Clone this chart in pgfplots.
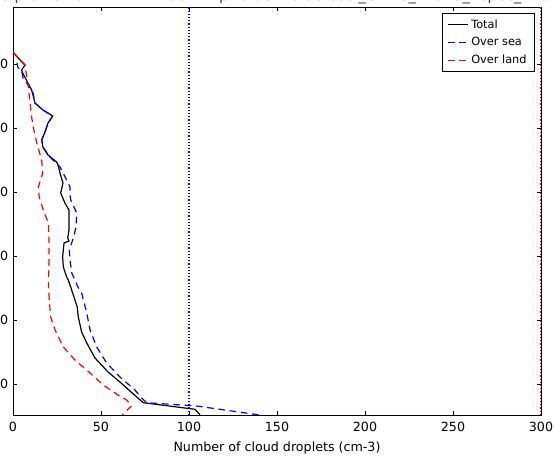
\documentclass[border=0pt]{standalone}
\usepackage{fontspec}
\setmainfont{DejaVu Sans}
\usepackage{pgfplots}
\pgfplotsset{compat=1.18}

\pgfplotstableread{
x y
1.0 6150
6.8 5984
4.9 5906
5.5 5859
8.5 5703
10.6 5594
12.5 5391
17.0 5281
22.6 5188
19.9 5078
18.2 4938
16.3 4813
17.0 4703
19.9 4578
24.8 4469
25.6 4422
26.7 4297
28.4 4141
27.1 3984
29.5 3828
31.8 3719
31.8 3406
31.1 3281
31.8 3234
29.0 3203
28.2 2984
28.6 2828
30.5 2672
31.4 2625
32.8 2516
36.5 2203
37.1 2047
39.0 1813
41.9 1641
46.6 1406
54.0 1188
60.8 1031
66.5 890
71.0 781
74.0 708
103.4 605
106.3 516
}\totaltab

\pgfplotstableread{
x y
2.3 6020
2.8 5944
4.9 5906
5.7 5781
9.7 5625
11.4 5547
12.5 5391
17.0 5281
22.6 5188
19.9 5078
18.2 4938
16.3 4813
17.0 4703
21.0 4547
26.7 4391
30.5 4188
32.4 4078
32.4 3953
32.8 3875
36.2 3672
35.8 3453
34.3 3281
32.0 3094
32.4 2938
33.4 2734
35.2 2625
36.9 2516
39.0 2422
41.9 2109
43.8 1844
47.6 1578
53.2 1328
60.8 1109
69.3 906
73.1 781
76.0 708
104.4 656
140.3 516
}\seatab

\pgfplotstableread{
x y
0.2 6183
6.8 5984
7.8 5802
8.7 5645
9.7 5391
10.6 5172
11.5 5016
13.5 4766
16.3 4500
16.9 4297
14.4 4078
14.9 3922
17.2 3719
20.1 3516
20.5 3203
20.5 2938
20.1 2578
20.6 2313
21.4 2047
23.9 1844
28.6 1578
35.2 1375
41.9 1219
51.3 984
59.7 828
64.6 750
67.4 660
62.0 516
}\landtab

\begin{document}
\begin{tikzpicture}
\path[use as bounding box] (-9.75pt,-30.75pt) rectangle (405.75pt,311.25pt);
\begin{axis}[
  width=396pt, height=306pt, scale only axis,
  xmin=0, xmax=300, ymin=516, ymax=6891,
  xtick={0,50,...,300},
  ytick={1000,2000,...,6000},
  yticklabel style={/pgf/number format/1000 sep={}},
  /pgf/number format/assume math mode=true,
  tick label style={font=\fontsize{9.5}{11}\selectfont},
  xticklabel style={yshift=-1.5pt},
  label style={font=\fontsize{9.5}{11}\selectfont},
  xlabel={Number of cloud droplets (cm-3)},
  xlabel style={yshift=-1pt},
  tick align=inside, xtick pos=both, ytick pos=both,
  major tick length=3pt,
  axis line style={black, line width=0.6pt},
  tick style={black, line width=0.5pt},
  legend style={at={(1,1)}, anchor=north east, xshift=-4.5pt, yshift=-4.5pt,
    draw=black, line width=0.6pt, font=\fontsize{8.5}{10}\selectfont,
    inner xsep=4pt, inner ysep=2.5pt, row sep=1.5pt},
  legend cell align=left,
  legend image code/.code={\draw[#1] (0pt,0pt) -- (15pt,0pt);},
  every axis title/.style={at={(0.5,1)}, anchor=base, yshift=4.7pt,
    font=\fontsize{11}{12}\selectfont, text=black!75},
  title={CDNC profile 20121122T1200Z Exp: u-ab123 aerosol\_CDNC\_12345\_Bspec\_1234567},
]
\addlegendimage{color=black, line width=0.9pt}
\addlegendentry{Total}
\addlegendimage{color=blue, line width=0.9pt, dash pattern=on 5pt off 3.5pt}
\addlegendentry{Over sea}
\addlegendimage{color=red, line width=1pt, dash pattern=on 5pt off 3.5pt}
\addlegendentry{Over land}
\addplot[black, line width=0.9pt, forget plot] table[x=x,y=y] {\totaltab};
\addplot[blue, line width=0.9pt, dash pattern=on 5pt off 3.5pt, forget plot] table[x=x,y=y] {\seatab};
\addplot[red, line width=0.9pt, dash pattern=on 5pt off 3.5pt, forget plot] table[x=x,y=y] {\landtab};
\addplot[blue, line width=0.9pt, dash pattern=on 0.9pt off 1.5pt, forget plot] coordinates {(100,516) (100,6891)};
\addplot[red, line width=0.9pt, dash pattern=on 0.9pt off 1.5pt, forget plot] coordinates {(300,516) (300,6891)};
\end{axis}
\end{tikzpicture}
\end{document}
